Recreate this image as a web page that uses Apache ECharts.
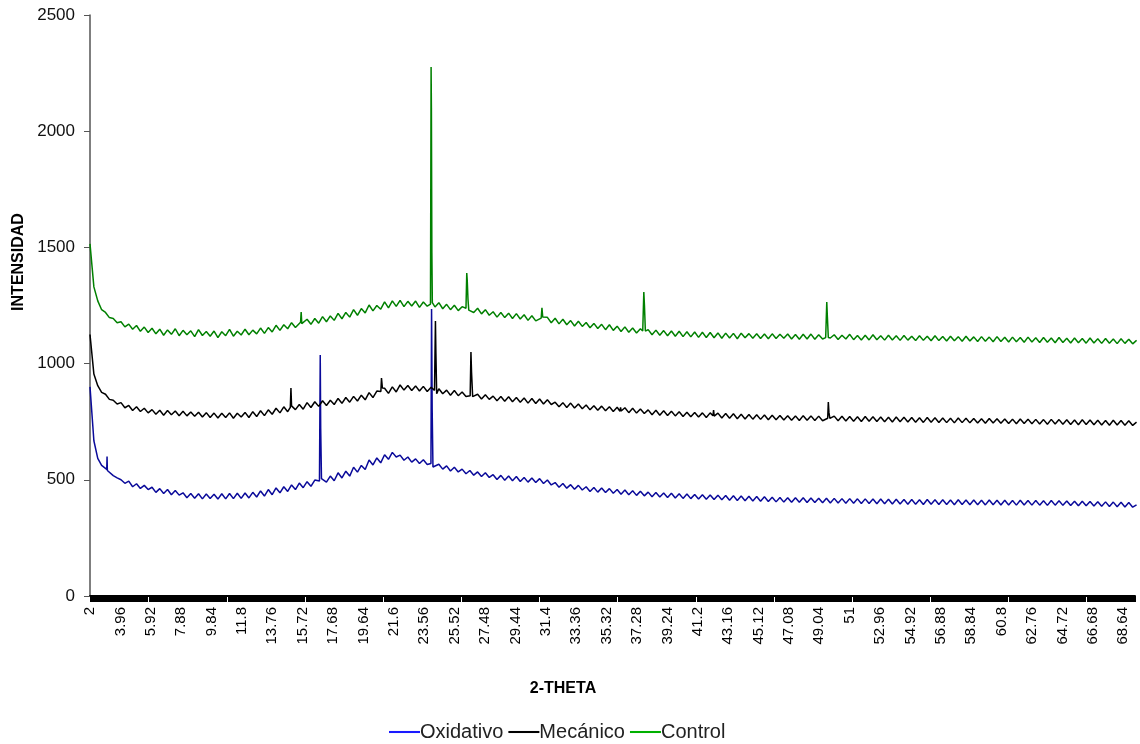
<!DOCTYPE html>
<html>
<head>
<meta charset="utf-8">
<title>Difractograma</title>
<script src="https://cdn.jsdelivr.net/npm/echarts@6/dist/echarts.min.js"></script>
<style>
  html, body { margin: 0; padding: 0; background: #fff; }
  #chart { width: 1140px; height: 744px; }
</style>
</head>
<body>
<div id="chart"></div>
<script>
// 2-theta sampling grid (degrees), every 0.25
var theta = [
  2, 2.25, 2.5, 2.75, 3, 3.25, 3.5, 3.75,
  4, 4.25, 4.5, 4.75, 5, 5.25, 5.5, 5.75,
  6, 6.25, 6.5, 6.75, 7, 7.25, 7.5, 7.75,
  8, 8.25, 8.5, 8.75, 9, 9.25, 9.5, 9.75,
  10, 10.25, 10.5, 10.75, 11, 11.25, 11.5, 11.75,
  12, 12.25, 12.5, 12.75, 13, 13.25, 13.5, 13.75,
  14, 14.25, 14.5, 14.75, 15, 15.25, 15.5, 15.75,
  16, 16.25, 16.5, 16.75, 17, 17.25, 17.5, 17.75,
  18, 18.25, 18.5, 18.75, 19, 19.25, 19.5, 19.75,
  20, 20.25, 20.5, 20.75, 21, 21.25, 21.5, 21.75,
  22, 22.25, 22.5, 22.75, 23, 23.25, 23.5, 23.75,
  24, 24.25, 24.5, 24.75, 25, 25.25, 25.5, 25.75,
  26, 26.25, 26.5, 26.75, 27, 27.25, 27.5, 27.75,
  28, 28.25, 28.5, 28.75, 29, 29.25, 29.5, 29.75,
  30, 30.25, 30.5, 30.75, 31, 31.25, 31.5, 31.75,
  32, 32.25, 32.5, 32.75, 33, 33.25, 33.5, 33.75,
  34, 34.25, 34.5, 34.75, 35, 35.25, 35.5, 35.75,
  36, 36.25, 36.5, 36.75, 37, 37.25, 37.5, 37.75,
  38, 38.25, 38.5, 38.75, 39, 39.25, 39.5, 39.75,
  40, 40.25, 40.5, 40.75, 41, 41.25, 41.5, 41.75,
  42, 42.25, 42.5, 42.75, 43, 43.25, 43.5, 43.75,
  44, 44.25, 44.5, 44.75, 45, 45.25, 45.5, 45.75,
  46, 46.25, 46.5, 46.75, 47, 47.25, 47.5, 47.75,
  48, 48.25, 48.5, 48.75, 49, 49.25, 49.5, 49.75,
  50, 50.25, 50.5, 50.75, 51, 51.25, 51.5, 51.75,
  52, 52.25, 52.5, 52.75, 53, 53.25, 53.5, 53.75,
  54, 54.25, 54.5, 54.75, 55, 55.25, 55.5, 55.75,
  56, 56.25, 56.5, 56.75, 57, 57.25, 57.5, 57.75,
  58, 58.25, 58.5, 58.75, 59, 59.25, 59.5, 59.75,
  60, 60.25, 60.5, 60.75, 61, 61.25, 61.5, 61.75,
  62, 62.25, 62.5, 62.75, 63, 63.25, 63.5, 63.75,
  64, 64.25, 64.5, 64.75, 65, 65.25, 65.5, 65.75,
  66, 66.25, 66.5, 66.75, 67, 67.25, 67.5, 67.75,
  68, 68.25, 68.5, 68.75, 69, 69.25, 69.5
];

// background intensity on the grid above (noise included, estimated)
var oxidativo = [
  900, 668, 592, 562, 545, 533, 518, 508,
  500, 485, 494, 470, 483, 463, 476, 458,
  468, 446, 462, 441, 458, 436, 454, 434,
  444, 423, 441, 421, 440, 418, 439, 420,
  438, 417, 440, 418, 441, 419, 442, 420,
  443, 422, 446, 426, 452, 430, 458, 436,
  465, 444, 470, 450, 478, 458, 486, 466,
  492, 472, 499, 484, 510, 490, 516, 496,
  530, 508, 537, 516, 554, 533, 562, 544,
  585, 564, 594, 573, 608, 588, 618, 598,
  606, 584, 598, 576, 590, 570, 586, 566,
  582, 560, 567, 546, 560, 538, 554, 534,
  546, 526, 540, 520, 534, 514, 530, 510,
  522, 501, 519, 498, 516, 496, 514, 493,
  510, 490, 508, 488, 505, 484, 499, 478,
  488, 468, 484, 464, 479, 459, 476, 456,
  470, 450, 467, 447, 465, 445, 462, 442,
  458, 438, 456, 436, 453, 433, 451, 431,
  447, 427, 445, 426, 443, 424, 442, 422,
  440, 420, 439, 419, 437, 417, 436, 416,
  435, 415, 434, 414, 432, 412, 431, 411,
  430, 410, 429, 409, 428, 408, 427, 407,
  425, 405, 424, 404, 423, 403, 423, 403,
  423, 402, 422, 402, 421, 401, 421, 400,
  420, 400, 419, 399, 419, 399, 418, 398,
  418, 398, 417, 397, 417, 397, 416, 396,
  416, 396, 415, 395, 415, 395, 414, 394,
  415, 395, 414, 394, 414, 394, 413, 393,
  414, 394, 413, 393, 413, 393, 412, 392,
  413, 393, 412, 392, 412, 392, 411, 391,
  412, 392, 411, 391, 411, 391, 410, 390,
  411, 391, 410, 390, 409, 389, 408, 388,
  408, 388, 407, 387, 406, 386, 405, 385,
  404, 384, 403, 383, 402, 382, 392
];

var mecanico = [
  1125, 955, 905, 876, 868, 846, 842, 826,
  832, 810, 820, 798, 814, 794, 808, 788,
  802, 782, 799, 778, 798, 780, 796, 776,
  795, 775, 792, 773, 791, 770, 789, 768,
  787, 766, 786, 768, 788, 765, 786, 770,
  790, 768, 793, 772, 797, 776, 801, 782,
  808, 788, 814, 793, 820, 802, 824, 804,
  832, 811, 836, 816, 840, 820, 842, 824,
  850, 829, 854, 834, 859, 839, 864, 844,
  875, 854, 882, 868, 894, 872, 900, 878,
  908, 886, 906, 884, 904, 882, 902, 880,
  898, 876, 892, 870, 886, 864, 884, 862,
  878, 858, 876, 854, 868, 848, 866, 846,
  860, 840, 858, 838, 857, 836, 854, 834,
  852, 830, 850, 828, 848, 826, 844, 824,
  834, 814, 832, 811, 830, 809, 826, 806,
  822, 801, 819, 799, 817, 797, 814, 794,
  812, 791, 810, 789, 808, 787, 805, 785,
  801, 780, 799, 778, 797, 777, 795, 775,
  793, 772, 791, 771, 790, 770, 788, 768,
  788, 768, 787, 766, 785, 765, 784, 763,
  782, 762, 781, 761, 780, 760, 779, 758,
  778, 758, 777, 757, 776, 756, 775, 755,
  776, 756, 775, 755, 774, 754, 775, 754,
  774, 754, 773, 753, 772, 752, 771, 751,
  772, 752, 771, 751, 770, 750, 769, 749,
  770, 750, 769, 749, 768, 748, 767, 747,
  768, 748, 767, 747, 766, 746, 765, 745,
  766, 746, 765, 745, 764, 744, 763, 743,
  764, 744, 763, 743, 762, 742, 761, 741,
  762, 742, 761, 741, 760, 740, 759, 739,
  760, 740, 759, 739, 758, 738, 757, 737,
  758, 738, 757, 737, 756, 736, 755, 735,
  756, 736, 755, 735, 754, 734, 748
];

var control = [
  1515, 1330, 1270, 1232, 1220, 1198, 1194, 1176,
  1180, 1158, 1170, 1148, 1164, 1139, 1157, 1134,
  1152, 1128, 1148, 1122, 1145, 1126, 1150, 1120,
  1143, 1124, 1141, 1116, 1146, 1121, 1138, 1118,
  1140, 1112, 1137, 1120, 1147, 1118, 1139, 1123,
  1148, 1124, 1144, 1128, 1153, 1130, 1155, 1136,
  1165, 1143, 1167, 1150, 1176, 1155, 1180, 1162,
  1191, 1169, 1194, 1174, 1202, 1180, 1205, 1186,
  1216, 1193, 1220, 1200, 1232, 1208, 1237, 1218,
  1252, 1227, 1250, 1234, 1266, 1240, 1270, 1246,
  1272, 1245, 1268, 1248, 1269, 1242, 1265, 1247,
  1254, 1244, 1262, 1236, 1255, 1232, 1251, 1228,
  1245, 1234, 1241, 1220, 1238, 1214, 1232, 1208,
  1223, 1200, 1220, 1198, 1217, 1194, 1215, 1192,
  1210, 1186, 1206, 1184, 1202, 1182, 1199, 1176,
  1195, 1171, 1191, 1167, 1185, 1162, 1182, 1160,
  1177, 1154, 1173, 1151, 1169, 1146, 1167, 1143,
  1161, 1138, 1158, 1135, 1153, 1132, 1150, 1131,
  1146, 1124, 1144, 1122, 1142, 1120, 1140, 1118,
  1139, 1116, 1137, 1115, 1136, 1113, 1135, 1112,
  1134, 1111, 1132, 1109, 1131, 1110, 1130, 1107,
  1131, 1111, 1129, 1109, 1128, 1108, 1127, 1107,
  1128, 1108, 1126, 1109, 1127, 1106, 1125, 1105,
  1126, 1106, 1127, 1105, 1124, 1106, 1123, 1110,
  1124, 1104, 1122, 1106, 1126, 1103, 1121, 1102,
  1122, 1102, 1124, 1103, 1120, 1101, 1122, 1102,
  1120, 1100, 1121, 1101, 1118, 1099, 1120, 1100,
  1118, 1098, 1120, 1099, 1117, 1097, 1118, 1098,
  1116, 1096, 1118, 1097, 1115, 1095, 1116, 1096,
  1114, 1094, 1116, 1095, 1113, 1093, 1114, 1094,
  1112, 1092, 1114, 1093, 1111, 1091, 1112, 1092,
  1110, 1090, 1112, 1091, 1109, 1089, 1110, 1090,
  1108, 1088, 1110, 1089, 1107, 1087, 1108, 1088,
  1106, 1086, 1107, 1087, 1105, 1085, 1100
];

// sharp reflections [2-theta, intensity]
var oxidativoPeaks = [
  [3.08, 545], [3.1, 600], [3.12, 540],
  [16.8, 495], [16.85, 1037], [16.88, 720], [16.93, 505],
  [23.99, 570], [24.03, 1235], [24.07, 800], [24.12, 555]
];
var mecanicoPeaks = [
  [14.92, 812], [14.96, 895], [15.0, 818],
  [20.76, 880], [20.8, 938], [20.86, 895],
  [24.22, 885], [24.28, 1183], [24.31, 1045], [24.36, 870],
  [26.52, 862], [26.57, 1050], [26.61, 960], [26.68, 858],
  [36.18, 795], [36.22, 812], [36.26, 796],
  [42.18, 776], [42.22, 800], [42.26, 774],
  [49.58, 765], [49.62, 835], [49.66, 790], [49.72, 764]
];
var controlPeaks = [
  [15.58, 1178], [15.62, 1222], [15.66, 1172],
  [23.96, 1256], [24.0, 2276], [24.02, 2100], [24.05, 1476], [24.08, 1262],
  [26.25, 1238], [26.3, 1390], [26.33, 1360], [26.38, 1276], [26.43, 1230],
  [31.1, 1196], [31.15, 1240], [31.2, 1200],
  [37.65, 1140], [37.72, 1308], [37.76, 1252], [37.82, 1140],
  [49.45, 1112], [49.52, 1265], [49.56, 1200], [49.62, 1112]
];

var seriesNames = ['Oxidativo', 'Mecánico', 'Control'];
var seriesColors = ['#0a0a9a', '#000000', '#008000'];
var legendColors = ['#1a1aff', '#000000', '#00b000'];

// merge background grid with the peaks (grid points right under a peak are dropped)
function buildSeries(values, peaks) {
  var pts = [];
  theta.forEach(function (x, i) {
    var near = peaks.some(function (p) { return Math.abs(p[0] - x) < 0.13; });
    if (!near) pts.push([x, values[i]]);
  });
  return pts.concat(peaks).sort(function (a, b) { return a[0] - b[0]; });
}

var font = "'Liberation Sans', Arial, sans-serif";
var chart = echarts.init(document.getElementById('chart'));

var dataSets = [
  buildSeries(oxidativo, oxidativoPeaks),
  buildSeries(mecanico, mecanicoPeaks),
  buildSeries(control, controlPeaks)
];

chart.setOption({
  animation: false,
  backgroundColor: '#ffffff',
  grid: { left: 90, right: 5, top: 15, bottom: 148 },
  xAxis: {
    type: 'value',
    min: 2,
    max: 69.4,
    interval: 1.96,
    axisLine: { lineStyle: { color: '#000', width: 2 } },
    axisTick: { show: true, length: 6, lineStyle: { color: '#000' } },
    minorTick: { show: true, splitNumber: 30, length: 6, lineStyle: { color: '#000' } },
    splitLine: { show: false },
    axisLabel: {
      rotate: 90,
      margin: 11,
      showMaxLabel: false,
      fontFamily: font,
      fontSize: 15,
      color: '#000',
      formatter: function (v) { return String(+v.toFixed(2)); }
    }
  },
  yAxis: {
    type: 'value',
    min: 0,
    max: 2500,
    interval: 500,
    axisLine: { show: true, lineStyle: { color: '#555', width: 1.5 } },
    axisTick: { show: true, length: 6, lineStyle: { color: '#555' } },
    splitLine: { show: false },
    axisLabel: {
      margin: 15, fontFamily: font, fontSize: 17, color: '#111',
      formatter: function (v) { return String(v); }
    }
  },
  legend: {
    left: 384,
    top: 717,
    itemWidth: 31,
    itemHeight: 12,
    itemGap: 5,
    textStyle: { fontFamily: font, fontSize: 20, color: '#222', padding: [0, 0, 0, -5] },
    data: seriesNames.map(function (n, i) {
      return { name: n, icon: 'path://M0,5 L30,5 L30,7 L0,7 Z', itemStyle: { color: legendColors[i] } };
    })
  },
  graphic: [
    {
      type: 'text', x: 19, y: 262, rotation: Math.PI / 2,
      style: { text: 'INTENSIDAD', align: 'center', verticalAlign: 'middle', font: 'bold 16px ' + font, fill: '#000' }
    },
    {
      type: 'text', x: 563, y: 689,
      style: { text: '2-THETA', align: 'center', verticalAlign: 'middle', font: 'bold 16px ' + font, fill: '#000' }
    }
  ],
  series: seriesNames.map(function (n, i) {
    return {
      name: n,
      type: 'line',
      symbol: 'none',
      data: dataSets[i],
      lineStyle: { color: seriesColors[i], width: 1.5 },
      itemStyle: { color: seriesColors[i] }
    };
  })
});
</script>
</body>
</html>
